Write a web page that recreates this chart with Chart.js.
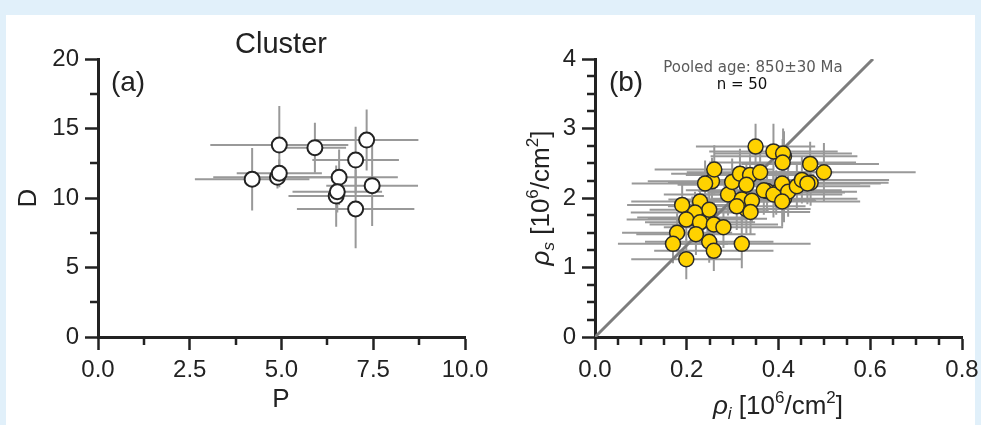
<!DOCTYPE html>
<html>
<head>
<meta charset="utf-8">
<script src="https://cdn.jsdelivr.net/npm/chart.js"></script>
<style>
  html, body { margin: 0; padding: 0; }
  body { width: 981px; height: 425px; background: #e1f0fa; position: relative; overflow: hidden; }
  .panel { position: absolute; left: 6px; top: 15px; width: 969px; height: 410px; background: #fff; }
  .box { position: absolute; top: 0; height: 425px; }
  #boxA { left: 0; width: 490px; }
  #boxB { left: 490px; width: 491px; }
</style>
</head>
<body>
<div class="panel"></div>
<div class="box" id="boxA"><canvas id="chartA"></canvas></div>
<div class="box" id="boxB"><canvas id="chartB"></canvas></div>
<script>
// panel (a) - cluster
const clusterP    = [4.94, 5.91, 7.32, 7.02, 4.20, 4.89, 4.94, 6.57, 7.47, 6.49, 6.52, 7.02];
const clusterD    = [13.81, 13.62, 14.17, 12.73, 11.35, 11.49, 11.78, 11.49, 10.89, 10.14, 10.45, 9.21];
const clusterErrP = [1.88, 0.85, 1.41, 1.18, 1.56, 1.75, 1.16, 1.60, 1.25, 1.30, 1.22, 1.60];
const clusterErrD = [2.80, 1.80, 2.20, 2.40, 2.25, 0.80, 1.00, 2.00, 2.90, 2.20, 1.50, 2.83];

const pTicks = [0, 2.5, 5, 7.5, 10];
const pMinor = [1.25, 3.75, 6.25, 8.75];
const dTicks = [0, 5, 10, 15, 20];
const dMinor = [2.5, 7.5, 12.5, 17.5];

// panel (b) - track densities
const rhoI = [0.412, 0.255, 0.395, 0.330, 0.212, 0.245, 0.412, 0.470, 0.375, 0.290,
              0.350, 0.389, 0.410, 0.409, 0.469, 0.499, 0.260, 0.240, 0.299, 0.316,
              0.338, 0.360, 0.330, 0.368, 0.389, 0.408, 0.421, 0.408, 0.440, 0.451,
              0.463, 0.320, 0.342, 0.309, 0.339, 0.190, 0.229, 0.249, 0.218, 0.199,
              0.229, 0.259, 0.280, 0.179, 0.220, 0.170, 0.249, 0.259, 0.199, 0.320];
const rhoS = [2.60, 2.24, 2.08, 1.84, 1.72, 1.70, 1.99, 2.22, 2.10, 2.05,
              2.74, 2.67, 2.64, 2.51, 2.49, 2.37, 2.41, 2.21, 2.23, 2.35,
              2.33, 2.37, 2.19, 2.11, 2.05, 2.21, 2.09, 1.95, 2.17, 2.26,
              2.21, 1.98, 1.96, 1.88, 1.80, 1.90, 1.95, 1.83, 1.79, 1.69,
              1.65, 1.62, 1.58, 1.50, 1.48, 1.34, 1.37, 1.24, 1.12, 1.34];
const errI = [0.16, 0.14, 0.15, 0.14, 0.12, 0.13, 0.16, 0.17, 0.15, 0.14,
              0.13, 0.14, 0.15, 0.16, 0.15, 0.20, 0.13, 0.16, 0.14, 0.15,
              0.14, 0.16, 0.15, 0.17, 0.15, 0.17, 0.15, 0.17, 0.16, 0.19,
              0.16, 0.16, 0.14, 0.15, 0.13, 0.12, 0.15, 0.13, 0.14, 0.13,
              0.12, 0.14, 0.13, 0.12, 0.13, 0.12, 0.14, 0.13, 0.12, 0.15];
const errS = [0.36, 0.34, 0.32, 0.35, 0.30, 0.32, 0.34, 0.33, 0.30, 0.30,
              0.33, 0.40, 0.36, 0.34, 0.32, 0.42, 0.35, 0.33, 0.34, 0.36,
              0.30, 0.35, 0.32, 0.35, 0.33, 0.34, 0.36, 0.36, 0.33, 0.34,
              0.30, 0.33, 0.32, 0.34, 0.32, 0.30, 0.31, 0.32, 0.30, 0.29,
              0.31, 0.33, 0.30, 0.28, 0.30, 0.28, 0.30, 0.29, 0.29, 0.35];

const rhoITicks = [0, 0.2, 0.4, 0.6, 0.8];
const rhoIMinor = [0.05, 0.1, 0.15, 0.25, 0.3, 0.35, 0.45, 0.5, 0.55, 0.65, 0.7, 0.75];
const rhoSTicks = [0, 1, 2, 3, 4];
const rhoSMinor = [0.25, 0.5, 0.75, 1.25, 1.5, 1.75, 2.25, 2.5, 2.75, 3.25, 3.5, 3.75];

// pooled-age reference line
const pooledX = [0, 0.606];
const pooledY = [0, 4];

const SANS = '"Liberation Sans", Arial, sans-serif';
const DEJAVU = '"DejaVu Sans", sans-serif';
const INK = '#222';

// draw text made of pieces (italic, sub/superscript)
function drawRich(ctx, parts, x, y, rot, size, family, color) {
    ctx.save();
    ctx.translate(x, y);
    ctx.rotate(rot || 0);
    ctx.fillStyle = color;
    ctx.textBaseline = 'alphabetic';
    ctx.textAlign = 'left';
    const fontOf = p => (p.italic ? 'italic ' : '') + Math.round(p.s ? size * 0.65 : size) + 'px ' + family;
    let total = 0;
    parts.forEach(p => { ctx.font = fontOf(p); total += ctx.measureText(p.t).width; });
    let cx = -total / 2;
    parts.forEach(p => {
        ctx.font = fontOf(p);
        const dy = p.s === 'sup' ? -size * 0.42 : (p.s === 'sub' ? size * 0.2 : 0);
        ctx.fillText(p.t, cx, dy);
        cx += ctx.measureText(p.t).width;
    });
    ctx.restore();
}

const extras = {
    id: 'extras',
    beforeDatasetsDraw(chart, args, opts) {
        const ctx = chart.ctx, xs = chart.scales.x, ys = chart.scales.y;
        ctx.save();
        ctx.strokeStyle = '#999';
        ctx.lineWidth = 2;
        chart.data.datasets.forEach(ds => {
            if (!ds.errX) return;
            ds.data.forEach((pt, i) => {
                const px = xs.getPixelForValue(pt.x), py = ys.getPixelForValue(pt.y);
                ctx.beginPath();
                ctx.moveTo(xs.getPixelForValue(pt.x - ds.errX[i]), py);
                ctx.lineTo(xs.getPixelForValue(pt.x + ds.errX[i]), py);
                ctx.moveTo(px, ys.getPixelForValue(pt.y - ds.errY[i]));
                ctx.lineTo(px, ys.getPixelForValue(pt.y + ds.errY[i]));
                ctx.stroke();
            });
        });
        ctx.restore();
    },
    afterDraw(chart, args, opts) {
        const ctx = chart.ctx, xs = chart.scales.x, ys = chart.scales.y, a = chart.chartArea;
        // minor ticks
        ctx.save();
        ctx.strokeStyle = INK;
        ctx.lineWidth = 2.5;
        ctx.beginPath();
        opts.minorX.forEach(v => {
            const px = Math.round(xs.getPixelForValue(v));
            ctx.moveTo(px, a.bottom); ctx.lineTo(px, a.bottom + 8);
        });
        opts.minorY.forEach(v => {
            const py = Math.round(ys.getPixelForValue(v));
            ctx.moveTo(a.left - 8, py); ctx.lineTo(a.left, py);
        });
        ctx.stroke();
        ctx.restore();
        // texts
        opts.texts.forEach(t => drawRich(ctx, t.parts, t.x, t.y, t.rot, t.size, t.family || SANS, t.color || INK));
    }
};

function axis(min, max, ticks, fmt, fit) {
    return {
        type: 'linear',
        min: min,
        max: max,
        afterBuildTicks: s => { s.ticks = ticks.map(v => ({ value: v })); },
        afterFit: s => { fit(s); s.paddingLeft = 0; s.paddingRight = 0; s.paddingTop = 0; s.paddingBottom = 0; },
        ticks: {
            callback: fmt,
            font: { family: SANS, size: 24 },
            color: INK,
            padding: 6,
            maxRotation: 0,
            autoSkip: false
        },
        grid: {
            display: true,
            drawOnChartArea: false,
            drawTicks: true,
            tickLength: 13,
            tickWidth: 2.5,
            tickColor: INK
        },
        border: { display: true, color: INK, width: 3 }
    };
}

// ---------- panel (a)
new Chart(document.getElementById('chartA'), {
    type: 'scatter',
    data: {
        datasets: [{
            data: clusterP.map((p, i) => ({ x: p, y: clusterD[i] })),
            errX: clusterErrP,
            errY: clusterErrD,
            pointRadius: 7.5,
            pointBackgroundColor: '#fff',
            pointBorderColor: INK,
            pointBorderWidth: 2
        }]
    },
    options: {
        responsive: true,
        maintainAspectRatio: false,
        animation: false,
        events: [],
        layout: { padding: { top: 59, right: 25, bottom: 0, left: 0 } },
        scales: {
            x: axis(0, 10, pTicks, v => v.toFixed(1), s => { s.height = 88; }),
            y: axis(0, 20, dTicks, v => String(v), s => { s.width = 98; })
        },
        plugins: {
            legend: { display: false },
            tooltip: { enabled: false },
            extras: {
                minorX: pMinor,
                minorY: dMinor,
                texts: [
                    { parts: [{ t: 'Cluster' }], x: 281, y: 53, size: 29 },
                    { parts: [{ t: '(a)' }], x: 128, y: 91, size: 28 },
                    { parts: [{ t: 'P' }], x: 281, y: 407, size: 26 },
                    { parts: [{ t: 'D' }], x: 36, y: 198, rot: -Math.PI / 2, size: 26 }
                ]
            }
        }
    },
    plugins: [extras]
});

// ---------- panel (b)
new Chart(document.getElementById('chartB'), {
    type: 'scatter',
    data: {
        datasets: [{
            data: rhoI.map((v, i) => ({ x: v, y: rhoS[i] })),
            errX: errI,
            errY: errS,
            pointRadius: 7.5,
            pointBackgroundColor: '#ffd200',
            pointBorderColor: '#2a2a2a',
            pointBorderWidth: 1.5,
            order: 1
        }, {
            data: pooledX.map((v, i) => ({ x: v, y: pooledY[i] })),
            showLine: true,
            borderColor: '#7d7d7d',
            borderWidth: 3,
            pointRadius: 0,
            order: 2
        }]
    },
    options: {
        responsive: true,
        maintainAspectRatio: false,
        animation: false,
        events: [],
        layout: { padding: { top: 59, right: 19, bottom: 0, left: 0 } },
        scales: {
            x: axis(0, 0.8, rhoITicks, v => v.toFixed(1), s => { s.height = 88; }),
            y: axis(0, 4, rhoSTicks, v => String(v), s => { s.width = 105; })
        },
        plugins: {
            legend: { display: false },
            tooltip: { enabled: false },
            extras: {
                minorX: rhoIMinor,
                minorY: rhoSMinor,
                texts: [
                    { parts: [{ t: '(b)' }], x: 136, y: 91, size: 28 },
                    { parts: [{ t: 'Pooled age: 850±30 Ma' }], x: 263, y: 72, size: 15, family: DEJAVU, color: '#5a5a5a' },
                    { parts: [{ t: 'n = 50' }], x: 252, y: 89, size: 15, family: DEJAVU, color: '#111' },
                    { parts: [{ t: 'ρ', italic: true }, { t: 'i', italic: true, s: 'sub' }, { t: ' [10' }, { t: '6', s: 'sup' }, { t: '/cm' }, { t: '2', s: 'sup' }, { t: ']' }],
                      x: 288, y: 414, size: 26 },
                    { parts: [{ t: 'ρ', italic: true }, { t: 's', italic: true, s: 'sub' }, { t: ' [10' }, { t: '6', s: 'sup' }, { t: '/cm' }, { t: '2', s: 'sup' }, { t: ']' }],
                      x: 59, y: 198, rot: -Math.PI / 2, size: 26 }
                ]
            }
        }
    },
    plugins: [extras]
});
</script>
</body>
</html>
